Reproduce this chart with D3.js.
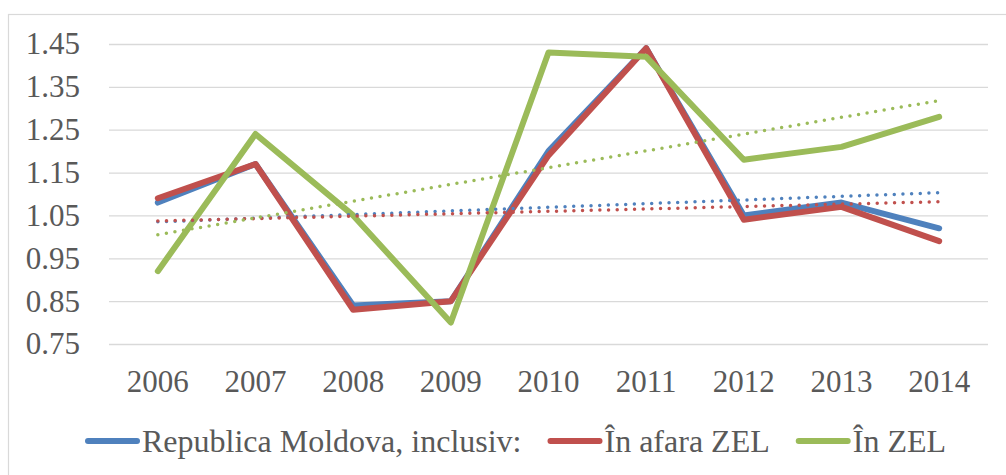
<!DOCTYPE html>
<html>
<head>
<meta charset="UTF-8">
<script src="https://cdnjs.cloudflare.com/ajax/libs/d3/7.8.5/d3.min.js"></script>
<style>
    body { margin: 0; background: #fff; }
</style>
</head>
<body>
<svg id="chart" width="1006" height="475" style="font-family: 'Liberation Serif'"></svg>
<script>
// data
const years = ['2006', '2007', '2008', '2009', '2010', '2011', '2012', '2013', '2014']
const seriesNames = ['Republica Moldova, inclusiv:', 'În afara ZEL', 'În ZEL']
const moldova = [1.08, 1.17, 0.84, 0.85, 1.20, 1.44, 1.05, 1.08, 1.02]
const inAfaraZel = [1.09, 1.17, 0.83, 0.85, 1.19, 1.44, 1.04, 1.07, 0.99]
const inZel = [0.92, 1.24, 1.05, 0.80, 1.43, 1.42, 1.18, 1.21, 1.28]
// linear trend lines: value at first and last year
const trendStart = [1.035, 1.037, 1.005]
const trendEnd = [1.103, 1.082, 1.318]
const yTicks = [0.75, 0.85, 0.95, 1.05, 1.15, 1.25, 1.35, 1.45]

const colors = ['#4F81BD', '#C0504D', '#9BBB59']
const allSeries = [moldova, inAfaraZel, inZel]
const textColor = '#595959'

const svg = d3.select('#chart')
const plot = { left: 109, right: 988, top: 44, bottom: 344 }

// outer chart border
svg.append('rect')
    .attr('x', 8.5).attr('y', 14.5)
    .attr('width', 1010).attr('height', 480)
    .attr('fill', 'none').attr('stroke', '#d9d9d9').attr('stroke-width', 1.2)

const x = d3.scaleBand().domain(years).range([plot.left, plot.right])
const xc = d => x(d) + x.bandwidth() / 2
const y = d3.scaleLinear().domain([0.75, 1.45]).range([plot.bottom, plot.top])

const styleText = (sel, size) => sel
    .attr('font-family', 'Liberation Serif')
    .style('font-family', "'Liberation Serif'")
    .attr('font-size', size)
    .attr('fill', textColor)

// y axis with gridlines
const gy = svg.append('g')
    .attr('transform', `translate(${plot.left},0)`)
    .call(d3.axisLeft(y).tickValues(yTicks).tickFormat(d3.format('.2f'))
        .tickSize(-(plot.right - plot.left)).tickPadding(29))
gy.attr('font-family', null).attr('font-size', null)
gy.select('.domain').remove()
gy.selectAll('line').attr('stroke', '#d9d9d9').attr('stroke-width', 1.3)
gy.selectAll('text').call(styleText, 31)

// x axis labels
const gx = svg.append('g')
    .attr('transform', `translate(0,${plot.bottom})`)
    .call(d3.axisBottom(x).tickSize(0).tickPadding(26))
gx.attr('font-family', null).attr('font-size', null)
gx.select('.domain').remove()
gx.selectAll('text').call(styleText, 31)

// series lines
const line = d3.line().x((d, i) => xc(years[i])).y(d => y(d))
allSeries.forEach((s, k) => {
    svg.append('path')
        .datum(s)
        .attr('d', line)
        .attr('fill', 'none')
        .attr('stroke', colors[k])
        .attr('stroke-width', 6)
        .attr('stroke-linejoin', 'round')
        .attr('stroke-linecap', 'round')
})

// dotted trend lines
allSeries.forEach((s, k) => {
    svg.append('line')
        .attr('x1', xc(years[0])).attr('y1', y(trendStart[k]))
        .attr('x2', xc(years[years.length - 1])).attr('y2', y(trendEnd[k]))
        .attr('stroke', colors[k])
        .attr('stroke-width', 3.5)
        .attr('stroke-linecap', 'round')
        .attr('stroke-dasharray', '0 8.67')
})

// legend
const legend = svg.append('g').attr('transform', 'translate(0,441)')
let lx = 85
seriesNames.forEach((name, k) => {
    legend.append('line')
        .attr('x1', lx + 3).attr('x2', lx + 52)
        .attr('y1', 0).attr('y2', 0)
        .attr('stroke', colors[k]).attr('stroke-width', 6)
        .attr('stroke-linecap', 'round')
    const t = legend.append('text')
        .attr('x', lx + 57).attr('y', 11)
        .call(styleText, 32)
        .text(name)
    lx += 57 + t.node().getComputedTextLength() + 26
})
</script>
</body>
</html>
